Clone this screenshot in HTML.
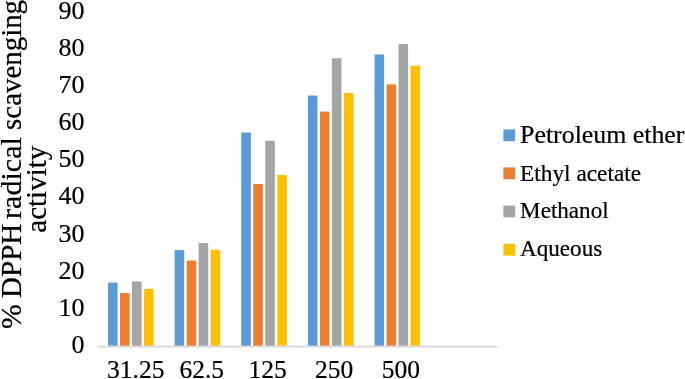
<!DOCTYPE html><html><head><meta charset="utf-8"><title>chart</title><style>html,body{margin:0;padding:0;background:#fff}svg{display:block}text{font-family:"Liberation Serif","Times New Roman",serif;fill:#000;stroke:#000;stroke-width:0.22px}</style></head><body>
<svg width="685" height="379" viewBox="0 0 685 379">
<rect width="685" height="379" fill="#fff"/>
<rect x="108.00" y="282.57" width="9.6" height="63.23" fill="#5B9BD5"/>
<rect x="120.00" y="293.02" width="9.6" height="52.78" fill="#ED7D31"/>
<rect x="132.00" y="281.45" width="9.6" height="64.35" fill="#A5A5A5"/>
<rect x="144.00" y="288.91" width="9.6" height="56.89" fill="#FFC000"/>
<rect x="174.63" y="250.09" width="9.6" height="95.71" fill="#5B9BD5"/>
<rect x="186.63" y="260.54" width="9.6" height="85.26" fill="#ED7D31"/>
<rect x="198.63" y="243.00" width="9.6" height="102.80" fill="#A5A5A5"/>
<rect x="210.63" y="249.72" width="9.6" height="96.08" fill="#FFC000"/>
<rect x="241.26" y="132.50" width="9.6" height="213.30" fill="#5B9BD5"/>
<rect x="253.26" y="184.01" width="9.6" height="161.79" fill="#ED7D31"/>
<rect x="265.26" y="140.71" width="9.6" height="205.09" fill="#A5A5A5"/>
<rect x="277.26" y="175.06" width="9.6" height="170.74" fill="#FFC000"/>
<rect x="307.89" y="95.54" width="9.6" height="250.26" fill="#5B9BD5"/>
<rect x="319.89" y="111.59" width="9.6" height="234.21" fill="#ED7D31"/>
<rect x="331.89" y="58.21" width="9.6" height="287.59" fill="#A5A5A5"/>
<rect x="343.89" y="92.93" width="9.6" height="252.87" fill="#FFC000"/>
<rect x="374.52" y="54.48" width="9.6" height="291.32" fill="#5B9BD5"/>
<rect x="386.52" y="84.34" width="9.6" height="261.46" fill="#ED7D31"/>
<rect x="398.52" y="44.03" width="9.6" height="301.77" fill="#A5A5A5"/>
<rect x="410.52" y="65.68" width="9.6" height="280.12" fill="#FFC000"/>
<rect x="97.8" y="345.7" width="399.3" height="1.7" fill="#D6D6D6"/>
<text x="84.6" y="352.90" font-size="26" text-anchor="end">0</text>
<text x="84.6" y="315.79" font-size="26" text-anchor="end">10</text>
<text x="84.6" y="278.68" font-size="26" text-anchor="end">20</text>
<text x="84.6" y="241.57" font-size="26" text-anchor="end">30</text>
<text x="84.6" y="204.46" font-size="26" text-anchor="end">40</text>
<text x="84.6" y="167.35" font-size="26" text-anchor="end">50</text>
<text x="84.6" y="130.24" font-size="26" text-anchor="end">60</text>
<text x="84.6" y="93.13" font-size="26" text-anchor="end">70</text>
<text x="84.6" y="56.02" font-size="26" text-anchor="end">80</text>
<text x="84.6" y="18.91" font-size="26" text-anchor="end">90</text>
<text x="135.7" y="377.7" font-size="25.5" text-anchor="middle">31.25</text>
<text x="201.7" y="377.7" font-size="25.5" text-anchor="middle">62.5</text>
<text x="267.6" y="377.7" font-size="25.5" text-anchor="middle">125</text>
<text x="334.0" y="377.7" font-size="25.5" text-anchor="middle">250</text>
<text x="400.9" y="377.7" font-size="25.5" text-anchor="middle">500</text>
<text transform="translate(20.7,329.1) rotate(-90)" font-size="29.7">%</text>
<text transform="translate(20.7,298.0) rotate(-90)" font-size="29.1">DPPH</text>
<text transform="translate(20.7,219.0) rotate(-90)" font-size="30.15">radical</text>
<text transform="translate(20.7,129.9) rotate(-90)" font-size="28.9">scavenging</text>
<text transform="translate(46.2,189.2) rotate(-90)" font-size="29.0" text-anchor="middle">activity</text>
<rect x="503.4" y="129.4" width="11.8" height="11.8" fill="#5B9BD5"/>
<text x="520.1" y="142.7" font-size="25.85">Petroleum ether</text>
<rect x="503.4" y="167.4" width="11.8" height="11.8" fill="#ED7D31"/>
<text x="520.1" y="181.2" font-size="23.3">Ethyl acetate</text>
<rect x="503.4" y="205.5" width="11.8" height="11.8" fill="#A5A5A5"/>
<text x="520.1" y="218.0" font-size="23.1">Methanol</text>
<rect x="503.4" y="243.8" width="11.8" height="11.8" fill="#FFC000"/>
<text x="520.1" y="256.0" font-size="23.1">Aqueous</text>
</svg></body></html>
